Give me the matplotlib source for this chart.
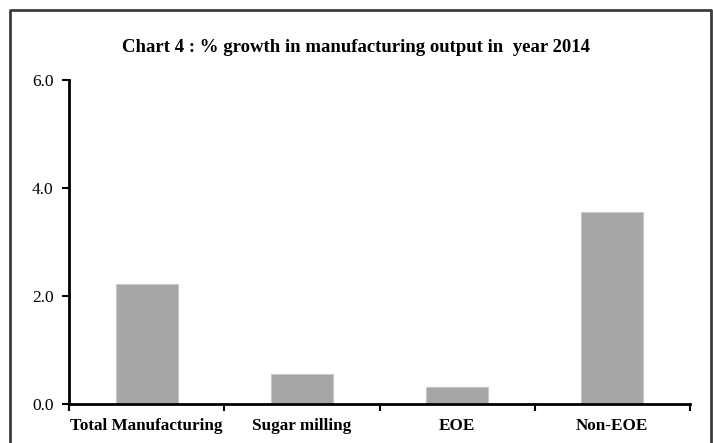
import numpy as np
import matplotlib
matplotlib.use("Agg")
import matplotlib.pyplot as plt
from matplotlib.lines import Line2D

categories = ["Total Manufacturing", "Sugar milling", "EOE", "Non-EOE"]
growth = [2.23, 0.55, 0.31, 3.56]
yticks = [0.0, 2.0, 4.0, 6.0]
title = "Chart 4 : % growth in manufacturing output in  year 2014"

plt.rcParams['font.family'] = ['Liberation Serif', 'DejaVu Serif']

W, H = 713, 443
fig = plt.figure(figsize=(W / 100, H / 100), dpi=100)
ax = fig.add_axes([69 / W, 1 - 404 / H, (690 - 69) / W, (404 - 80) / H])

x = np.arange(len(categories))
ax.bar(x, growth, width=0.4, color='#a6a6a6', edgecolor='#c8c8c8', linewidth=0.8)

ax.set_xlim(-0.5, len(categories) - 0.5)
ax.set_ylim(0, 6)
ax.set_yticks(yticks)
ax.set_yticklabels(["%.1f" % v for v in yticks], fontsize=12.5)

# ticks at category boundaries, labels centred under the bars
ax.set_xticks(np.arange(len(categories) + 1) - 0.5)
ax.set_xticklabels([])
ax.set_xticks(x, minor=True)
ax.set_xticklabels(categories, minor=True, fontsize=12.3, fontweight='bold')
ax.tick_params(axis='x', which='minor', length=0, pad=10)
ax.tick_params(axis='x', which='major', direction='out', length=5, width=1.5)
ax.tick_params(axis='y', direction='out', length=5, width=1.5, pad=6)

for s in ["top", "right"]:
    ax.spines[s].set_visible(False)
for s in ["left", "bottom"]:
    ax.spines[s].set_linewidth(2)

fig.text(0.5, 1 - 48 / H, title, ha='center', va='center',
         fontsize=13.5, fontweight='bold')

# outer frame (bottom edge is cut off)
fx0, fx1, fy1 = 9.5 / W, 711 / W, 1 - 9.5 / H
fig.add_artist(Line2D([fx0, fx0, fx1, fx1], [0, fy1, fy1, 0],
                      transform=fig.transFigure, color='#3c3c3c', linewidth=2))

fig.savefig("out.png", dpi=100)
